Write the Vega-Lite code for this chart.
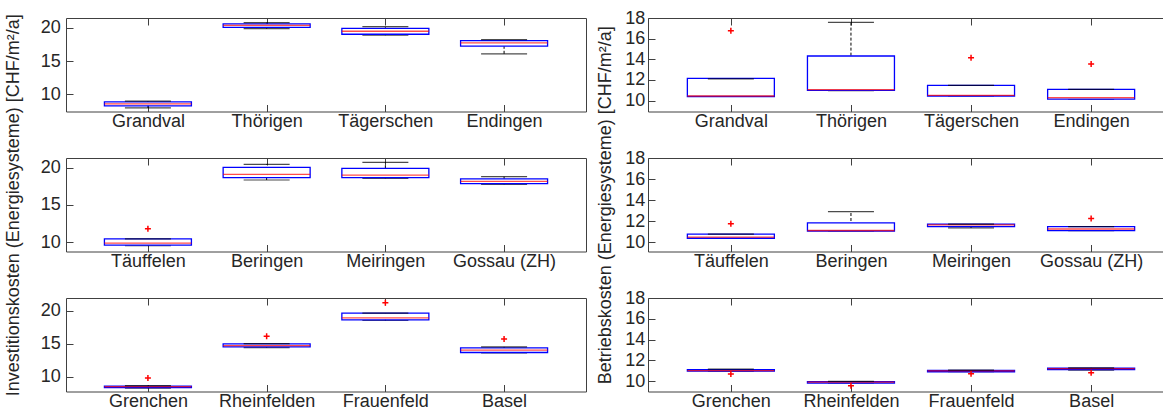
{
"$schema": "https://vega.github.io/schema/vega-lite/v6.json",
"background": "white",
"padding": {"left": 3, "top": 8, "right": 0, "bottom": 0},
"datasets": {
"stats": [
{"cost":"inv","row":1,"site":"Grandval","lower":7.95,"q1":8.25,"median":8.55,"q3":8.85,"upper":8.95},
{"cost":"inv","row":1,"site":"Thörigen","lower":19.9,"q1":20.1,"median":20.4,"q3":20.6,"upper":20.8},
{"cost":"inv","row":1,"site":"Tägerschen","lower":18.9,"q1":19.05,"median":19.5,"q3":19.95,"upper":20.2},
{"cost":"inv","row":1,"site":"Endingen","lower":16.1,"q1":17.25,"median":17.75,"q3":18.1,"upper":18.25},
{"cost":"inv","row":2,"site":"Täuffelen","lower":9.55,"q1":9.6,"median":9.87,"q3":10.45,"upper":10.45},
{"cost":"inv","row":2,"site":"Beringen","lower":18.35,"q1":18.66,"median":19.1,"q3":20.05,"upper":20.45},
{"cost":"inv","row":2,"site":"Meiringen","lower":18.57,"q1":18.66,"median":19.0,"q3":19.9,"upper":20.7},
{"cost":"inv","row":2,"site":"Gossau (ZH)","lower":17.77,"q1":17.86,"median":18.17,"q3":18.5,"upper":18.8},
{"cost":"inv","row":3,"site":"Grenchen","lower":8.25,"q1":8.35,"median":8.5,"q3":8.55,"upper":8.65},
{"cost":"inv","row":3,"site":"Rheinfelden","lower":14.4,"q1":14.5,"median":14.7,"q3":14.95,"upper":15.0},
{"cost":"inv","row":3,"site":"Frauenfeld","lower":18.5,"q1":18.6,"median":18.9,"q3":19.6,"upper":19.6},
{"cost":"inv","row":3,"site":"Basel","lower":13.6,"q1":13.65,"median":14.0,"q3":14.35,"upper":14.5},
{"cost":"bet","row":1,"site":"Grandval","lower":10.4,"q1":10.4,"median":10.45,"q3":12.15,"upper":12.1},
{"cost":"bet","row":1,"site":"Thörigen","lower":10.97,"q1":11.0,"median":11.06,"q3":14.32,"upper":17.57},
{"cost":"bet","row":1,"site":"Tägerschen","lower":10.45,"q1":10.45,"median":10.51,"q3":11.48,"upper":11.48},
{"cost":"bet","row":1,"site":"Endingen","lower":10.15,"q1":10.15,"median":10.3,"q3":11.1,"upper":11.1},
{"cost":"bet","row":2,"site":"Täuffelen","lower":10.36,"q1":10.36,"median":10.46,"q3":10.75,"upper":10.75},
{"cost":"bet","row":2,"site":"Beringen","lower":11.05,"q1":11.05,"median":11.1,"q3":11.83,"upper":12.9},
{"cost":"bet","row":2,"site":"Meiringen","lower":11.34,"q1":11.47,"median":11.63,"q3":11.7,"upper":11.7},
{"cost":"bet","row":2,"site":"Gossau (ZH)","lower":11.08,"q1":11.08,"median":11.24,"q3":11.47,"upper":11.47},
{"cost":"bet","row":3,"site":"Grenchen","lower":10.97,"q1":10.97,"median":11.0,"q3":11.1,"upper":11.15},
{"cost":"bet","row":3,"site":"Rheinfelden","lower":9.8,"q1":9.8,"median":9.9,"q3":9.96,"upper":9.98},
{"cost":"bet","row":3,"site":"Frauenfeld","lower":10.9,"q1":10.9,"median":10.98,"q3":11.02,"upper":11.05},
{"cost":"bet","row":3,"site":"Basel","lower":11.05,"q1":11.1,"median":11.2,"q3":11.24,"upper":11.28}
],
"out": [
{"cost":"inv","row":2,"site":"Täuffelen","value":11.8},
{"cost":"inv","row":3,"site":"Grenchen","value":9.8},
{"cost":"inv","row":3,"site":"Rheinfelden","value":16.1},
{"cost":"inv","row":3,"site":"Frauenfeld","value":21.2},
{"cost":"inv","row":3,"site":"Basel","value":15.7},
{"cost":"bet","row":1,"site":"Grandval","value":16.77},
{"cost":"bet","row":1,"site":"Tägerschen","value":14.16},
{"cost":"bet","row":1,"site":"Endingen","value":13.55},
{"cost":"bet","row":2,"site":"Täuffelen","value":11.73},
{"cost":"bet","row":2,"site":"Gossau (ZH)","value":12.25},
{"cost":"bet","row":3,"site":"Grenchen","value":10.68},
{"cost":"bet","row":3,"site":"Rheinfelden","value":9.56},
{"cost":"bet","row":3,"site":"Frauenfeld","value":10.7},
{"cost":"bet","row":3,"site":"Basel","value":10.8}
]
},
"columns": 2,
"spacing": {"row": 46, "column": 62},
"bounds": "flush",
"concat": [
{"width":520,"height":93.5,"layer":[
{"layer":[
{"data":{"name":"stats"},"transform":[{"filter":"datum.cost=='inv' && datum.row==1"}],"mark":{"type":"rule","color":"black","strokeDash":[3,2],"strokeWidth":1},
"encoding":{"x":{"field":"site","type":"nominal","scale":{"type":"point","padding":0.69,"domain":["Grandval","Thörigen","Tägerschen","Endingen"]},"axis":{"orient":"bottom","title":null,"labelAngle":0,"labelPadding":1,"offset":-7,"tickSize":7}},
"y":{"field":"lower","type":"quantitative","scale":{"domain":[7.4,21.5],"nice":false,"zero":false},"axis":{"title":null,"values":[10,15,20],"labelPadding":5.7,"offset":-7,"tickSize":7}},"y2":{"field":"upper"}}},
{"data":{"name":"stats"},"transform":[{"filter":"datum.cost=='inv' && datum.row==1"}],"mark":{"type":"tick","color":"black","size":46,"thickness":1.2},
"encoding":{"x":{"field":"site","type":"nominal","scale":{"type":"point","padding":0.69,"domain":["Grandval","Thörigen","Tägerschen","Endingen"]},"axis":{"orient":"bottom","title":null,"labelAngle":0,"labelPadding":1,"offset":-7,"tickSize":7}},
"y":{"field":"lower","type":"quantitative","scale":{"domain":[7.4,21.5],"nice":false,"zero":false},"axis":{"title":null,"values":[10,15,20],"labelPadding":5.7,"offset":-7,"tickSize":7}}}},
{"data":{"name":"stats"},"transform":[{"filter":"datum.cost=='inv' && datum.row==1"}],"mark":{"type":"bar","fill":"white","stroke":"#0000ff","strokeWidth":1.3,"size":87},
"encoding":{"x":{"field":"site","type":"nominal","scale":{"type":"point","padding":0.69,"domain":["Grandval","Thörigen","Tägerschen","Endingen"]},"axis":{"orient":"bottom","title":null,"labelAngle":0,"labelPadding":1,"offset":-7,"tickSize":7}},
"y":{"field":"q1","type":"quantitative","scale":{"domain":[7.4,21.5],"nice":false,"zero":false},"axis":{"title":null,"values":[10,15,20],"labelPadding":5.7,"offset":-7,"tickSize":7}},"y2":{"field":"q3"}}},
{"data":{"name":"stats"},"transform":[{"filter":"datum.cost=='inv' && datum.row==1"}],"mark":{"type":"tick","color":"#ff0000","size":87,"thickness":1.3},
"encoding":{"x":{"field":"site","type":"nominal","scale":{"type":"point","padding":0.69,"domain":["Grandval","Thörigen","Tägerschen","Endingen"]},"axis":{"orient":"bottom","title":null,"labelAngle":0,"labelPadding":1,"offset":-7,"tickSize":7}},
"y":{"field":"median","type":"quantitative","scale":{"domain":[7.4,21.5],"nice":false,"zero":false},"axis":{"title":null,"values":[10,15,20],"labelPadding":5.7,"offset":-7,"tickSize":7}}}}
]},
{"data":{"name":"stats"},"transform":[{"filter":"datum.cost=='inv' && datum.row==1"}],"mark":{"type":"tick","color":"black","size":46,"thickness":1.2},
"encoding":{"x":{"field":"site","type":"nominal","scale":{"type":"point","padding":0.69,"domain":["Grandval","Thörigen","Tägerschen","Endingen"]},"axis":{"orient":"top","title":null,"labels":false,"offset":-7,"tickSize":7}},
"y":{"field":"upper","type":"quantitative","scale":{"domain":[7.4,21.5],"nice":false,"zero":false},"axis":{"title":null,"values":[10,15,20],"labelPadding":5.7,"offset":-7,"tickSize":7}}}}
]},
{"width":526,"height":93.5,"layer":[
{"layer":[
{"data":{"name":"stats"},"transform":[{"filter":"datum.cost=='bet' && datum.row==1"}],"mark":{"type":"rule","color":"black","strokeDash":[3,2],"strokeWidth":1},
"encoding":{"x":{"field":"site","type":"nominal","scale":{"type":"point","padding":0.69,"domain":["Grandval","Thörigen","Tägerschen","Endingen"]},"axis":{"orient":"bottom","title":null,"labelAngle":0,"labelPadding":1,"offset":-7,"tickSize":7}},
"y":{"field":"lower","type":"quantitative","scale":{"domain":[8.95,18],"nice":false,"zero":false},"axis":{"title":null,"values":[10,12,14,16,18],"labelPadding":3.3,"offset":-7,"tickSize":7}},"y2":{"field":"upper"}}},
{"data":{"name":"stats"},"transform":[{"filter":"datum.cost=='bet' && datum.row==1"}],"mark":{"type":"tick","color":"black","size":46,"thickness":1.2},
"encoding":{"x":{"field":"site","type":"nominal","scale":{"type":"point","padding":0.69,"domain":["Grandval","Thörigen","Tägerschen","Endingen"]},"axis":{"orient":"bottom","title":null,"labelAngle":0,"labelPadding":1,"offset":-7,"tickSize":7}},
"y":{"field":"lower","type":"quantitative","scale":{"domain":[8.95,18],"nice":false,"zero":false},"axis":{"title":null,"values":[10,12,14,16,18],"labelPadding":3.3,"offset":-7,"tickSize":7}}}},
{"data":{"name":"stats"},"transform":[{"filter":"datum.cost=='bet' && datum.row==1"}],"mark":{"type":"bar","fill":"white","stroke":"#0000ff","strokeWidth":1.3,"size":87},
"encoding":{"x":{"field":"site","type":"nominal","scale":{"type":"point","padding":0.69,"domain":["Grandval","Thörigen","Tägerschen","Endingen"]},"axis":{"orient":"bottom","title":null,"labelAngle":0,"labelPadding":1,"offset":-7,"tickSize":7}},
"y":{"field":"q1","type":"quantitative","scale":{"domain":[8.95,18],"nice":false,"zero":false},"axis":{"title":null,"values":[10,12,14,16,18],"labelPadding":3.3,"offset":-7,"tickSize":7}},"y2":{"field":"q3"}}},
{"data":{"name":"stats"},"transform":[{"filter":"datum.cost=='bet' && datum.row==1"}],"mark":{"type":"tick","color":"#ff0000","size":87,"thickness":1.3},
"encoding":{"x":{"field":"site","type":"nominal","scale":{"type":"point","padding":0.69,"domain":["Grandval","Thörigen","Tägerschen","Endingen"]},"axis":{"orient":"bottom","title":null,"labelAngle":0,"labelPadding":1,"offset":-7,"tickSize":7}},
"y":{"field":"median","type":"quantitative","scale":{"domain":[8.95,18],"nice":false,"zero":false},"axis":{"title":null,"values":[10,12,14,16,18],"labelPadding":3.3,"offset":-7,"tickSize":7}}}},
{"data":{"name":"out"},"transform":[{"filter":"datum.cost=='bet' && datum.row==1"}],"mark":{"type":"point","shape":"M-1,0H1M0,-1V1","size":36,"filled":false,"color":"#ff0000","strokeWidth":1.5,"opacity":1},
"encoding":{"x":{"field":"site","type":"nominal","scale":{"type":"point","padding":0.69,"domain":["Grandval","Thörigen","Tägerschen","Endingen"]},"axis":{"orient":"bottom","title":null,"labelAngle":0,"labelPadding":1,"offset":-7,"tickSize":7}},
"y":{"field":"value","type":"quantitative","scale":{"domain":[8.95,18],"nice":false,"zero":false},"axis":{"title":null,"values":[10,12,14,16,18],"labelPadding":3.3,"offset":-7,"tickSize":7}}}}
]},
{"data":{"name":"stats"},"transform":[{"filter":"datum.cost=='bet' && datum.row==1"}],"mark":{"type":"tick","color":"black","size":46,"thickness":1.2},
"encoding":{"x":{"field":"site","type":"nominal","scale":{"type":"point","padding":0.69,"domain":["Grandval","Thörigen","Tägerschen","Endingen"]},"axis":{"orient":"top","title":null,"labels":false,"offset":-7,"tickSize":7}},
"y":{"field":"upper","type":"quantitative","scale":{"domain":[8.95,18],"nice":false,"zero":false},"axis":{"title":null,"values":[10,12,14,16,18],"labelPadding":3.3,"offset":-7,"tickSize":7}}}}
]},
{"width":520,"height":93.5,"layer":[
{"layer":[
{"data":{"name":"stats"},"transform":[{"filter":"datum.cost=='inv' && datum.row==2"}],"mark":{"type":"rule","color":"black","strokeDash":[3,2],"strokeWidth":1},
"encoding":{"x":{"field":"site","type":"nominal","scale":{"type":"point","padding":0.69,"domain":["Täuffelen","Beringen","Meiringen","Gossau (ZH)"]},"axis":{"orient":"bottom","title":null,"labelAngle":0,"labelPadding":1,"offset":-7,"tickSize":7}},
"y":{"field":"lower","type":"quantitative","scale":{"domain":[8.75,21.3],"nice":false,"zero":false},"axis":{"title":"Investitionskosten (Energiesysteme) [CHF/m²/a]","titlePadding":18,"values":[10,15,20],"labelPadding":5.7,"offset":-7,"tickSize":7}},"y2":{"field":"upper"}}},
{"data":{"name":"stats"},"transform":[{"filter":"datum.cost=='inv' && datum.row==2"}],"mark":{"type":"tick","color":"black","size":46,"thickness":1.2},
"encoding":{"x":{"field":"site","type":"nominal","scale":{"type":"point","padding":0.69,"domain":["Täuffelen","Beringen","Meiringen","Gossau (ZH)"]},"axis":{"orient":"bottom","title":null,"labelAngle":0,"labelPadding":1,"offset":-7,"tickSize":7}},
"y":{"field":"lower","type":"quantitative","scale":{"domain":[8.75,21.3],"nice":false,"zero":false},"axis":{"title":"Investitionskosten (Energiesysteme) [CHF/m²/a]","titlePadding":18,"values":[10,15,20],"labelPadding":5.7,"offset":-7,"tickSize":7}}}},
{"data":{"name":"stats"},"transform":[{"filter":"datum.cost=='inv' && datum.row==2"}],"mark":{"type":"bar","fill":"white","stroke":"#0000ff","strokeWidth":1.3,"size":87},
"encoding":{"x":{"field":"site","type":"nominal","scale":{"type":"point","padding":0.69,"domain":["Täuffelen","Beringen","Meiringen","Gossau (ZH)"]},"axis":{"orient":"bottom","title":null,"labelAngle":0,"labelPadding":1,"offset":-7,"tickSize":7}},
"y":{"field":"q1","type":"quantitative","scale":{"domain":[8.75,21.3],"nice":false,"zero":false},"axis":{"title":"Investitionskosten (Energiesysteme) [CHF/m²/a]","titlePadding":18,"values":[10,15,20],"labelPadding":5.7,"offset":-7,"tickSize":7}},"y2":{"field":"q3"}}},
{"data":{"name":"stats"},"transform":[{"filter":"datum.cost=='inv' && datum.row==2"}],"mark":{"type":"tick","color":"#ff0000","size":87,"thickness":1.3},
"encoding":{"x":{"field":"site","type":"nominal","scale":{"type":"point","padding":0.69,"domain":["Täuffelen","Beringen","Meiringen","Gossau (ZH)"]},"axis":{"orient":"bottom","title":null,"labelAngle":0,"labelPadding":1,"offset":-7,"tickSize":7}},
"y":{"field":"median","type":"quantitative","scale":{"domain":[8.75,21.3],"nice":false,"zero":false},"axis":{"title":"Investitionskosten (Energiesysteme) [CHF/m²/a]","titlePadding":18,"values":[10,15,20],"labelPadding":5.7,"offset":-7,"tickSize":7}}}},
{"data":{"name":"out"},"transform":[{"filter":"datum.cost=='inv' && datum.row==2"}],"mark":{"type":"point","shape":"M-1,0H1M0,-1V1","size":36,"filled":false,"color":"#ff0000","strokeWidth":1.5,"opacity":1},
"encoding":{"x":{"field":"site","type":"nominal","scale":{"type":"point","padding":0.69,"domain":["Täuffelen","Beringen","Meiringen","Gossau (ZH)"]},"axis":{"orient":"bottom","title":null,"labelAngle":0,"labelPadding":1,"offset":-7,"tickSize":7}},
"y":{"field":"value","type":"quantitative","scale":{"domain":[8.75,21.3],"nice":false,"zero":false},"axis":{"title":"Investitionskosten (Energiesysteme) [CHF/m²/a]","titlePadding":18,"values":[10,15,20],"labelPadding":5.7,"offset":-7,"tickSize":7}}}}
]},
{"data":{"name":"stats"},"transform":[{"filter":"datum.cost=='inv' && datum.row==2"}],"mark":{"type":"tick","color":"black","size":46,"thickness":1.2},
"encoding":{"x":{"field":"site","type":"nominal","scale":{"type":"point","padding":0.69,"domain":["Täuffelen","Beringen","Meiringen","Gossau (ZH)"]},"axis":{"orient":"top","title":null,"labels":false,"offset":-7,"tickSize":7}},
"y":{"field":"upper","type":"quantitative","scale":{"domain":[8.75,21.3],"nice":false,"zero":false},"axis":{"title":"Investitionskosten (Energiesysteme) [CHF/m²/a]","titlePadding":18,"values":[10,15,20],"labelPadding":5.7,"offset":-7,"tickSize":7}}}}
]},
{"width":526,"height":93.5,"layer":[
{"layer":[
{"data":{"name":"stats"},"transform":[{"filter":"datum.cost=='bet' && datum.row==2"}],"mark":{"type":"rule","color":"black","strokeDash":[3,2],"strokeWidth":1},
"encoding":{"x":{"field":"site","type":"nominal","scale":{"type":"point","padding":0.69,"domain":["Täuffelen","Beringen","Meiringen","Gossau (ZH)"]},"axis":{"orient":"bottom","title":null,"labelAngle":0,"labelPadding":1,"offset":-7,"tickSize":7}},
"y":{"field":"lower","type":"quantitative","scale":{"domain":[9.1,18],"nice":false,"zero":false},"axis":{"title":"Betriebskosten (Energiesysteme) [CHF/m²/a]","titlePadding":10,"values":[10,12,14,16,18],"labelPadding":3.3,"offset":-7,"tickSize":7}},"y2":{"field":"upper"}}},
{"data":{"name":"stats"},"transform":[{"filter":"datum.cost=='bet' && datum.row==2"}],"mark":{"type":"tick","color":"black","size":46,"thickness":1.2},
"encoding":{"x":{"field":"site","type":"nominal","scale":{"type":"point","padding":0.69,"domain":["Täuffelen","Beringen","Meiringen","Gossau (ZH)"]},"axis":{"orient":"bottom","title":null,"labelAngle":0,"labelPadding":1,"offset":-7,"tickSize":7}},
"y":{"field":"lower","type":"quantitative","scale":{"domain":[9.1,18],"nice":false,"zero":false},"axis":{"title":"Betriebskosten (Energiesysteme) [CHF/m²/a]","titlePadding":10,"values":[10,12,14,16,18],"labelPadding":3.3,"offset":-7,"tickSize":7}}}},
{"data":{"name":"stats"},"transform":[{"filter":"datum.cost=='bet' && datum.row==2"}],"mark":{"type":"bar","fill":"white","stroke":"#0000ff","strokeWidth":1.3,"size":87},
"encoding":{"x":{"field":"site","type":"nominal","scale":{"type":"point","padding":0.69,"domain":["Täuffelen","Beringen","Meiringen","Gossau (ZH)"]},"axis":{"orient":"bottom","title":null,"labelAngle":0,"labelPadding":1,"offset":-7,"tickSize":7}},
"y":{"field":"q1","type":"quantitative","scale":{"domain":[9.1,18],"nice":false,"zero":false},"axis":{"title":"Betriebskosten (Energiesysteme) [CHF/m²/a]","titlePadding":10,"values":[10,12,14,16,18],"labelPadding":3.3,"offset":-7,"tickSize":7}},"y2":{"field":"q3"}}},
{"data":{"name":"stats"},"transform":[{"filter":"datum.cost=='bet' && datum.row==2"}],"mark":{"type":"tick","color":"#ff0000","size":87,"thickness":1.3},
"encoding":{"x":{"field":"site","type":"nominal","scale":{"type":"point","padding":0.69,"domain":["Täuffelen","Beringen","Meiringen","Gossau (ZH)"]},"axis":{"orient":"bottom","title":null,"labelAngle":0,"labelPadding":1,"offset":-7,"tickSize":7}},
"y":{"field":"median","type":"quantitative","scale":{"domain":[9.1,18],"nice":false,"zero":false},"axis":{"title":"Betriebskosten (Energiesysteme) [CHF/m²/a]","titlePadding":10,"values":[10,12,14,16,18],"labelPadding":3.3,"offset":-7,"tickSize":7}}}},
{"data":{"name":"out"},"transform":[{"filter":"datum.cost=='bet' && datum.row==2"}],"mark":{"type":"point","shape":"M-1,0H1M0,-1V1","size":36,"filled":false,"color":"#ff0000","strokeWidth":1.5,"opacity":1},
"encoding":{"x":{"field":"site","type":"nominal","scale":{"type":"point","padding":0.69,"domain":["Täuffelen","Beringen","Meiringen","Gossau (ZH)"]},"axis":{"orient":"bottom","title":null,"labelAngle":0,"labelPadding":1,"offset":-7,"tickSize":7}},
"y":{"field":"value","type":"quantitative","scale":{"domain":[9.1,18],"nice":false,"zero":false},"axis":{"title":"Betriebskosten (Energiesysteme) [CHF/m²/a]","titlePadding":10,"values":[10,12,14,16,18],"labelPadding":3.3,"offset":-7,"tickSize":7}}}}
]},
{"data":{"name":"stats"},"transform":[{"filter":"datum.cost=='bet' && datum.row==2"}],"mark":{"type":"tick","color":"black","size":46,"thickness":1.2},
"encoding":{"x":{"field":"site","type":"nominal","scale":{"type":"point","padding":0.69,"domain":["Täuffelen","Beringen","Meiringen","Gossau (ZH)"]},"axis":{"orient":"top","title":null,"labels":false,"offset":-7,"tickSize":7}},
"y":{"field":"upper","type":"quantitative","scale":{"domain":[9.1,18],"nice":false,"zero":false},"axis":{"title":"Betriebskosten (Energiesysteme) [CHF/m²/a]","titlePadding":10,"values":[10,12,14,16,18],"labelPadding":3.3,"offset":-7,"tickSize":7}}}}
]},
{"width":520,"height":93.5,"layer":[
{"layer":[
{"data":{"name":"stats"},"transform":[{"filter":"datum.cost=='inv' && datum.row==3"}],"mark":{"type":"rule","color":"black","strokeDash":[3,2],"strokeWidth":1},
"encoding":{"x":{"field":"site","type":"nominal","scale":{"type":"point","padding":0.69,"domain":["Grenchen","Rheinfelden","Frauenfeld","Basel"]},"axis":{"orient":"bottom","title":null,"labelAngle":0,"labelPadding":1,"offset":-7,"tickSize":7}},
"y":{"field":"lower","type":"quantitative","scale":{"domain":[7.75,21.9],"nice":false,"zero":false},"axis":{"title":null,"values":[10,15,20],"labelPadding":5.7,"offset":-7,"tickSize":7}},"y2":{"field":"upper"}}},
{"data":{"name":"stats"},"transform":[{"filter":"datum.cost=='inv' && datum.row==3"}],"mark":{"type":"tick","color":"black","size":46,"thickness":1.2},
"encoding":{"x":{"field":"site","type":"nominal","scale":{"type":"point","padding":0.69,"domain":["Grenchen","Rheinfelden","Frauenfeld","Basel"]},"axis":{"orient":"bottom","title":null,"labelAngle":0,"labelPadding":1,"offset":-7,"tickSize":7}},
"y":{"field":"lower","type":"quantitative","scale":{"domain":[7.75,21.9],"nice":false,"zero":false},"axis":{"title":null,"values":[10,15,20],"labelPadding":5.7,"offset":-7,"tickSize":7}}}},
{"data":{"name":"stats"},"transform":[{"filter":"datum.cost=='inv' && datum.row==3"}],"mark":{"type":"bar","fill":"white","stroke":"#0000ff","strokeWidth":1.3,"size":87},
"encoding":{"x":{"field":"site","type":"nominal","scale":{"type":"point","padding":0.69,"domain":["Grenchen","Rheinfelden","Frauenfeld","Basel"]},"axis":{"orient":"bottom","title":null,"labelAngle":0,"labelPadding":1,"offset":-7,"tickSize":7}},
"y":{"field":"q1","type":"quantitative","scale":{"domain":[7.75,21.9],"nice":false,"zero":false},"axis":{"title":null,"values":[10,15,20],"labelPadding":5.7,"offset":-7,"tickSize":7}},"y2":{"field":"q3"}}},
{"data":{"name":"stats"},"transform":[{"filter":"datum.cost=='inv' && datum.row==3"}],"mark":{"type":"tick","color":"#ff0000","size":87,"thickness":1.3},
"encoding":{"x":{"field":"site","type":"nominal","scale":{"type":"point","padding":0.69,"domain":["Grenchen","Rheinfelden","Frauenfeld","Basel"]},"axis":{"orient":"bottom","title":null,"labelAngle":0,"labelPadding":1,"offset":-7,"tickSize":7}},
"y":{"field":"median","type":"quantitative","scale":{"domain":[7.75,21.9],"nice":false,"zero":false},"axis":{"title":null,"values":[10,15,20],"labelPadding":5.7,"offset":-7,"tickSize":7}}}},
{"data":{"name":"out"},"transform":[{"filter":"datum.cost=='inv' && datum.row==3"}],"mark":{"type":"point","shape":"M-1,0H1M0,-1V1","size":36,"filled":false,"color":"#ff0000","strokeWidth":1.5,"opacity":1},
"encoding":{"x":{"field":"site","type":"nominal","scale":{"type":"point","padding":0.69,"domain":["Grenchen","Rheinfelden","Frauenfeld","Basel"]},"axis":{"orient":"bottom","title":null,"labelAngle":0,"labelPadding":1,"offset":-7,"tickSize":7}},
"y":{"field":"value","type":"quantitative","scale":{"domain":[7.75,21.9],"nice":false,"zero":false},"axis":{"title":null,"values":[10,15,20],"labelPadding":5.7,"offset":-7,"tickSize":7}}}}
]},
{"data":{"name":"stats"},"transform":[{"filter":"datum.cost=='inv' && datum.row==3"}],"mark":{"type":"tick","color":"black","size":46,"thickness":1.2},
"encoding":{"x":{"field":"site","type":"nominal","scale":{"type":"point","padding":0.69,"domain":["Grenchen","Rheinfelden","Frauenfeld","Basel"]},"axis":{"orient":"top","title":null,"labels":false,"offset":-7,"tickSize":7}},
"y":{"field":"upper","type":"quantitative","scale":{"domain":[7.75,21.9],"nice":false,"zero":false},"axis":{"title":null,"values":[10,15,20],"labelPadding":5.7,"offset":-7,"tickSize":7}}}}
]},
{"width":526,"height":93.5,"layer":[
{"layer":[
{"data":{"name":"stats"},"transform":[{"filter":"datum.cost=='bet' && datum.row==3"}],"mark":{"type":"rule","color":"black","strokeDash":[3,2],"strokeWidth":1},
"encoding":{"x":{"field":"site","type":"nominal","scale":{"type":"point","padding":0.69,"domain":["Grenchen","Rheinfelden","Frauenfeld","Basel"]},"axis":{"orient":"bottom","title":null,"labelAngle":0,"labelPadding":1,"offset":-7,"tickSize":7}},
"y":{"field":"lower","type":"quantitative","scale":{"domain":[9.0,18],"nice":false,"zero":false},"axis":{"title":null,"values":[10,12,14,16,18],"labelPadding":3.3,"offset":-7,"tickSize":7}},"y2":{"field":"upper"}}},
{"data":{"name":"stats"},"transform":[{"filter":"datum.cost=='bet' && datum.row==3"}],"mark":{"type":"tick","color":"black","size":46,"thickness":1.2},
"encoding":{"x":{"field":"site","type":"nominal","scale":{"type":"point","padding":0.69,"domain":["Grenchen","Rheinfelden","Frauenfeld","Basel"]},"axis":{"orient":"bottom","title":null,"labelAngle":0,"labelPadding":1,"offset":-7,"tickSize":7}},
"y":{"field":"lower","type":"quantitative","scale":{"domain":[9.0,18],"nice":false,"zero":false},"axis":{"title":null,"values":[10,12,14,16,18],"labelPadding":3.3,"offset":-7,"tickSize":7}}}},
{"data":{"name":"stats"},"transform":[{"filter":"datum.cost=='bet' && datum.row==3"}],"mark":{"type":"bar","fill":"white","stroke":"#0000ff","strokeWidth":1.3,"size":87},
"encoding":{"x":{"field":"site","type":"nominal","scale":{"type":"point","padding":0.69,"domain":["Grenchen","Rheinfelden","Frauenfeld","Basel"]},"axis":{"orient":"bottom","title":null,"labelAngle":0,"labelPadding":1,"offset":-7,"tickSize":7}},
"y":{"field":"q1","type":"quantitative","scale":{"domain":[9.0,18],"nice":false,"zero":false},"axis":{"title":null,"values":[10,12,14,16,18],"labelPadding":3.3,"offset":-7,"tickSize":7}},"y2":{"field":"q3"}}},
{"data":{"name":"stats"},"transform":[{"filter":"datum.cost=='bet' && datum.row==3"}],"mark":{"type":"tick","color":"#ff0000","size":87,"thickness":1.3},
"encoding":{"x":{"field":"site","type":"nominal","scale":{"type":"point","padding":0.69,"domain":["Grenchen","Rheinfelden","Frauenfeld","Basel"]},"axis":{"orient":"bottom","title":null,"labelAngle":0,"labelPadding":1,"offset":-7,"tickSize":7}},
"y":{"field":"median","type":"quantitative","scale":{"domain":[9.0,18],"nice":false,"zero":false},"axis":{"title":null,"values":[10,12,14,16,18],"labelPadding":3.3,"offset":-7,"tickSize":7}}}},
{"data":{"name":"out"},"transform":[{"filter":"datum.cost=='bet' && datum.row==3"}],"mark":{"type":"point","shape":"M-1,0H1M0,-1V1","size":36,"filled":false,"color":"#ff0000","strokeWidth":1.5,"opacity":1},
"encoding":{"x":{"field":"site","type":"nominal","scale":{"type":"point","padding":0.69,"domain":["Grenchen","Rheinfelden","Frauenfeld","Basel"]},"axis":{"orient":"bottom","title":null,"labelAngle":0,"labelPadding":1,"offset":-7,"tickSize":7}},
"y":{"field":"value","type":"quantitative","scale":{"domain":[9.0,18],"nice":false,"zero":false},"axis":{"title":null,"values":[10,12,14,16,18],"labelPadding":3.3,"offset":-7,"tickSize":7}}}}
]},
{"data":{"name":"stats"},"transform":[{"filter":"datum.cost=='bet' && datum.row==3"}],"mark":{"type":"tick","color":"black","size":46,"thickness":1.2},
"encoding":{"x":{"field":"site","type":"nominal","scale":{"type":"point","padding":0.69,"domain":["Grenchen","Rheinfelden","Frauenfeld","Basel"]},"axis":{"orient":"top","title":null,"labels":false,"offset":-7,"tickSize":7}},
"y":{"field":"upper","type":"quantitative","scale":{"domain":[9.0,18],"nice":false,"zero":false},"axis":{"title":null,"values":[10,12,14,16,18],"labelPadding":3.3,"offset":-7,"tickSize":7}}}}
]}
],
"config": {
"font": "Liberation Sans",
"view": {"stroke": "#404040", "strokeWidth": 1},
"axis": {"labelFont": "Liberation Sans", "labelFontSize": 18, "labelColor": "#262626", "titleFont": "Liberation Sans", "titleFontSize": 18, "titleFontWeight": "normal", "titleColor": "#262626", "domain": false, "grid": false, "tickColor": "#404040", "tickWidth": 1}
}
}
